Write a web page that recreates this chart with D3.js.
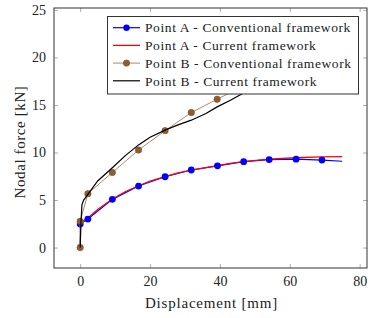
<!DOCTYPE html>
<html>
<head>
<meta charset="utf-8">
<script src="https://cdn.jsdelivr.net/npm/d3@7"></script>
<style>
  body { margin: 0; background: #fff; }
  text { font-family: "Liberation Serif", serif; fill: #222; }
</style>
</head>
<body>
<div id="chart"></div>
<script>
// data (displacement in mm, nodal force in kN)
const aConvX = [0, 2.2, 9.2, 16.7, 24.3, 31.8, 39.3, 46.8, 54.1, 61.8, 69.2, 75];
const aConvY = [2.47, 3.0, 5.07, 6.47, 7.45, 8.16, 8.6, 9.03, 9.26, 9.3, 9.2, 9.08];
const aCurX = [0, 0.1, 1, 2.2, 5, 9.2, 13, 16.7, 20, 24.3, 28, 31.8, 36, 39.3, 43, 46.8, 54, 61.8, 69, 75];
const aCurY = [0, 2.5, 2.85, 3.1, 4.0, 5.1, 5.9, 6.5, 7.0, 7.45, 7.85, 8.15, 8.4, 8.62, 8.85, 9.03, 9.3, 9.45, 9.55, 9.56];
const bConvX = [0, 0, 2.2, 9.2, 16.7, 24.3, 31.8, 39.2, 46.8, 54.1, 61.8, 69.2];
const bConvY = [0, 2.76, 5.67, 7.9, 10.26, 12.3, 14.2, 15.6, 17.0, 18.3, 19.5, 20.6];
const bCurX = [0, 0.2, 0.5, 1, 2.2, 5, 9.2, 13, 16.7, 20, 24.3, 28, 31.8, 36, 39.2, 43, 46, 55, 65, 75];
const bCurY = [0, 2.5, 4.5, 5.0, 5.6, 7.0, 8.4, 9.7, 10.8, 11.6, 12.35, 12.9, 13.4, 14.1, 14.8, 15.5, 16.1, 18.0, 20.0, 22.0];

const xTicks = [0, 20, 40, 60, 80];
const yTicks = [0, 5, 10, 15, 20, 25];
const legendNames = ["Point A - Conventional framework", "Point A - Current framework",
                     "Point B - Conventional framework", "Point B - Current framework"];

const W = 373, H = 318;
const pL = 54, pR = 367, pT = 8, pB = 268;
const serif = "Liberation Serif";

const svg = d3.select("#chart").append("svg")
    .attr("width", W).attr("height", H);

const x = d3.scaleLinear().domain([-7.5, 82.1]).range([pL, pR]);
const y = d3.scaleLinear().domain([-2.15, 25.2]).range([pB, pT]);

// ticks on all four sides, pointing inwards
const tickCol = "#b0b0b0";
const axB = svg.append("g").attr("transform", "translate(0," + pB + ")")
    .call(d3.axisBottom(x).tickValues(xTicks).tickSizeInner(-4).tickSizeOuter(0).tickPadding(8));
const axT = svg.append("g").attr("transform", "translate(0," + pT + ")")
    .call(d3.axisTop(x).tickValues(xTicks).tickSizeInner(-4).tickSizeOuter(0).tickFormat(""));
const axL = svg.append("g").attr("transform", "translate(" + pL + ",0)")
    .call(d3.axisLeft(y).tickValues(yTicks).tickSizeInner(-4).tickSizeOuter(0).tickPadding(8));
const axR = svg.append("g").attr("transform", "translate(" + pR + ",0)")
    .call(d3.axisRight(y).tickValues(yTicks).tickSizeInner(-4).tickSizeOuter(0).tickFormat(""));
[axB, axT, axL, axR].forEach(a => {
  a.attr("font-family", serif);
  a.select(".domain").remove();
  a.selectAll(".tick line").attr("stroke", tickCol);
  a.selectAll(".tick text").attr("font-family", serif)
    .style("font-size", "14px").attr("fill", "#222");
});

const line = d3.line().x(d => x(d[0])).y(d => y(d[1]));
const zip = (a, b) => a.map((v, i) => [v, b[i]]);

const plot = svg.append("g");

// Point A - conventional
plot.append("path").datum(zip(aConvX, aConvY)).attr("d", line)
    .attr("fill", "none").attr("stroke", "#0000ff").attr("stroke-width", 1.2);
// Point A - current
plot.append("path").datum(zip(aCurX, aCurY)).attr("d", line)
    .attr("fill", "none").attr("stroke", "#ff0000").attr("stroke-width", 1.3);
// markers for A (last point has no mark)
plot.append("g").selectAll("circle").data(zip(aConvX, aConvY).slice(0, -1)).join("circle")
    .attr("cx", d => x(d[0])).attr("cy", d => y(d[1])).attr("r", 3.4)
    .attr("fill", "#0000ff");
// Point B - conventional
plot.append("path").datum(zip(bConvX, bConvY)).attr("d", line)
    .attr("fill", "none").attr("stroke", "#a67d52").attr("stroke-width", 0.9);
plot.append("g").selectAll("circle").data(zip(bConvX, bConvY)).join("circle")
    .attr("cx", d => x(d[0])).attr("cy", d => y(d[1])).attr("r", 3.2)
    .attr("fill", "#8f5e30").attr("stroke", "#7a5028").attr("stroke-width", 0.6);
// Point B - current
plot.append("path").datum(zip(bCurX, bCurY)).attr("d", line)
    .attr("fill", "none").attr("stroke", "#000").attr("stroke-width", 1.2);

// frame
svg.append("rect").attr("x", pL).attr("y", pT)
    .attr("width", pR - pL).attr("height", pB - pT)
    .attr("fill", "none").attr("stroke", "#333").attr("stroke-width", 1);

// legend
const lg = svg.append("g");
lg.append("rect").attr("x", 107.5).attr("y", 16.5).attr("width", 251).attr("height", 77.5)
    .attr("fill", "#fff").attr("stroke", "#333").attr("stroke-width", 1);
const legStyles = [
  {c: "#0000ff", w: 1.2, m: "#0000ff", ms: "none"},
  {c: "#ff0000", w: 1.3, m: null},
  {c: "#a67d52", w: 0.9, m: "#8f5e30", ms: "#7a5028"},
  {c: "#000", w: 1.2, m: null}
];
legendNames.forEach((name, i) => {
  const cy = 27.7 + i * 17.7;
  const s = legStyles[i];
  lg.append("line").attr("x1", 113).attr("x2", 140).attr("y1", cy).attr("y2", cy)
      .attr("stroke", s.c).attr("stroke-width", s.w);
  if (s.m) lg.append("circle").attr("cx", 126.5).attr("cy", cy).attr("r", 3.2)
      .attr("fill", s.m).attr("stroke", s.ms).attr("stroke-width", 0.6);
  lg.append("text").attr("x", 145).attr("y", cy).attr("dy", "0.35em")
      .attr("font-family", serif)
      .style("font-size", "13.5px").style("letter-spacing", "0.6px").text(name);
});

// axis titles
svg.append("text").attr("x", (pL + pR) / 2 + 1).attr("y", 303).attr("dy", "0.35em")
    .attr("font-family", serif).attr("text-anchor", "middle")
    .style("font-size", "15px").style("letter-spacing", "0.8px")
    .text("Displacement [mm]");
svg.append("text").attr("transform", "translate(20," + 142 + ") rotate(-90)")
    .attr("font-family", serif).attr("dy", "0.35em").attr("text-anchor", "middle")
    .style("font-size", "15px").style("letter-spacing", "0.6px").text("Nodal force [kN]");
</script>
</body>
</html>
